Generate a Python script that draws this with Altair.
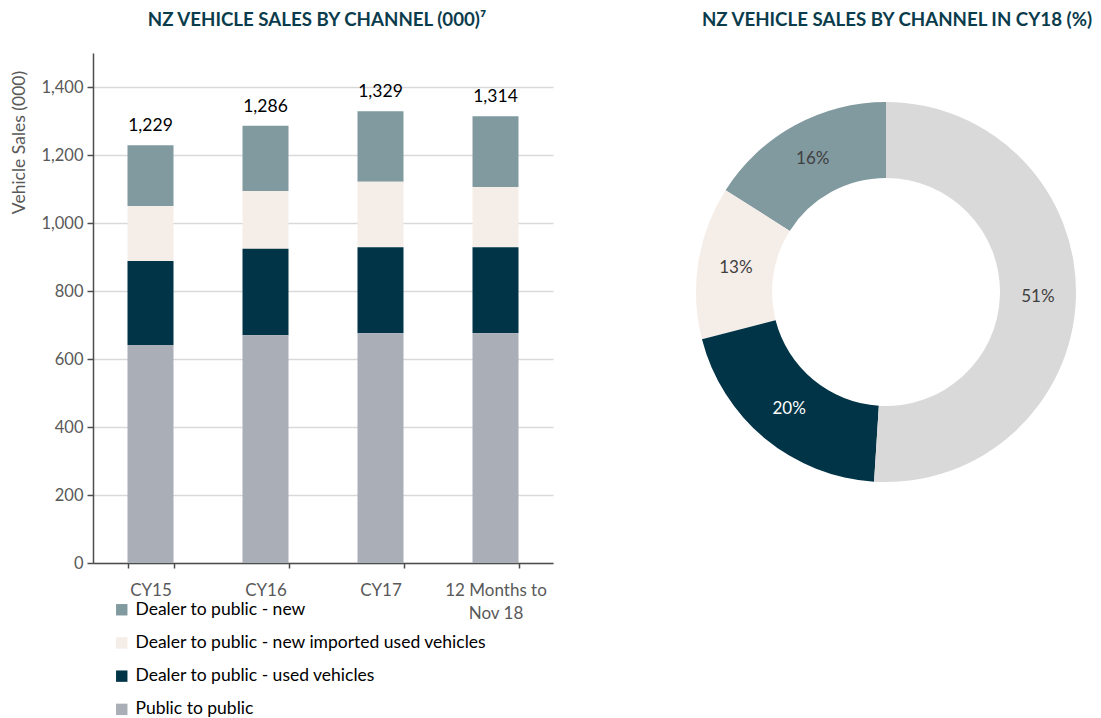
import altair as alt
import pandas as pd

FONT = "Lato"

periods = ["CY15", "CY16", "CY17", "12 Months to Nov 18"]
channels = [
    "Dealer to public - new",
    "Dealer to public - new imported used vehicles",
    "Dealer to public - used vehicles",
    "Public to public",
]
stack_rank = [3, 2, 1, 0]  # public at the bottom

new_vals = [179, 192, 208, 208]
imported_vals = [162, 170, 192, 177]
used_vals = [247, 254, 253, 253]
public_vals = [641, 670, 676, 676]
totals = [1229, 1286, 1329, 1314]

donut_pct = [16, 13, 20, 51]  # same order as channels

bar_colors = ["#819AA0", "#F5EDE8", "#003446", "#A9AEB7"]
donut_colors = ["#819AA0", "#F5EDE8", "#003446", "#D9D9D9"]
donut_text_colors = ["#404040", "#404040", "#FFFFFF", "#404040"]

title_left = "NZ VEHICLE SALES BY CHANNEL (000)\u2077"
title_right = "NZ VEHICLE SALES BY CHANNEL IN CY18 (%)"

# ---- tables built from the arrays ----
rows = []
for series, ch, rk in zip([new_vals, imported_vals, used_vals, public_vals], channels, stack_rank):
    for p, v in zip(periods, series):
        rows.append({"period": p, "channel": ch, "rank": rk, "value": v})
df_bars = pd.DataFrame(rows)
df_tot = pd.DataFrame({"period": periods, "total": totals})
df_donut = pd.DataFrame({
    "dchannel": channels,
    "pct": donut_pct,
    "rank": stack_rank,
    "label": [f"{v}%" for v in donut_pct],
    "tcolor": donut_text_colors,
})

GRAY = "#595959"
AXC = "#4D4D4D"

x_enc = alt.X(
    "period:N", sort=periods,
    scale=alt.Scale(paddingInner=0.6, paddingOuter=0.3),
    axis=alt.Axis(
        title=None, labelAngle=0, labelFontSize=17, labelColor=GRAY, labelFont=FONT,
        domainColor=AXC, domainWidth=1.5, tickColor=AXC, tickWidth=1.5, tickBand="extent", tickSize=5,
        labelPadding=14, grid=False, labelLineHeight=23,
        labelExpr="datum.value == '12 Months to Nov 18' ? ['12 Months to', 'Nov 18'] : datum.value",
    ),
)

y_axis = alt.Axis(
    values=[0, 200, 400, 600, 800, 1000, 1200, 1400], format=",.0f",
    labelFontSize=16.5, labelColor=GRAY, labelFont=FONT, labelPadding=4,
    domainColor=AXC, domainWidth=1.5, tickColor=AXC, tickWidth=1.5, tickSize=6,
    gridColor="#D9D9D9", gridWidth=1.5,
    title="Vehicle Sales (000)", titleFontSize=17.5, titleFontWeight="normal",
    titleColor=GRAY, titleFont=FONT, titleAngle=270, titleX=-74, titleY=89,
    titleAlign="center", titleBaseline="middle",
)
y_scale = alt.Scale(domain=[0, 1500], nice=False)

bars = alt.Chart(df_bars).mark_bar().encode(
    x=x_enc,
    y=alt.Y("value:Q", stack="zero", scale=y_scale, axis=y_axis),
    color=alt.Color(
        "channel:N",
        scale=alt.Scale(domain=channels, range=bar_colors),
        legend=alt.Legend(
            title=None, orient="none", legendX=20, legendY=548,
            symbolType="square", symbolSize=130, symbolStrokeWidth=0,
            labelFontSize=17.5, labelColor="#000000", labelFont=FONT, labelLimit=0,
            labelOffset=5, rowPadding=14.2,
        ),
    ),
    order=alt.Order("rank:Q", sort="ascending"),
)

tot_text = alt.Chart(df_tot).mark_text(
    dy=-19, fontSize=17.5, font=FONT, color="#000000"
).encode(
    x=alt.X("period:N", sort=periods),
    y=alt.Y("total:Q", scale=y_scale, axis=y_axis),
    text=alt.Text("total:Q", format=",.0f"),
)

CX, CY = 793, 239

donut = alt.Chart(df_donut).mark_arc(innerRadius=114, outerRadius=190).encode(
    theta=alt.Theta("pct:Q", stack=True),
    color=alt.Color("dchannel:N", scale=alt.Scale(domain=channels, range=donut_colors), legend=None),
    order=alt.Order("rank:Q", sort="ascending"),
    x=alt.value(CX), y=alt.value(CY),
)

donut_text = alt.Chart(df_donut).mark_text(radius=152, fontSize=17, font=FONT).encode(
    theta=alt.Theta("pct:Q", stack=True),
    text="label:N",
    color=alt.Color("tcolor:N", scale=None),
    order=alt.Order("rank:Q", sort="ascending"),
    x=alt.value(CX), y=alt.value(CY),
)

titles = alt.Chart(pd.DataFrame({"t": [title_left, title_right], "px": [224, 804]})).mark_text(
    fontSize=18.7, fontWeight="bold", font=FONT, color="#0B3C4C", baseline="middle"
).encode(
    text="t:N",
    x=alt.X("px:Q", scale=None),
    y=alt.value(-33),
)

chart = alt.layer(bars, tot_text, donut, donut_text, titles).resolve_scale(
    color="independent", theta="independent"
).properties(
    width=460, height=510,
    autosize=alt.AutoSizeParams(type="none"),
    padding={"left": 85, "top": 45, "right": 540, "bottom": 155},
).configure(font=FONT).configure_view(stroke=None)

chart.save("out.html", embed_options={"renderer": "svg", "actions": False})
